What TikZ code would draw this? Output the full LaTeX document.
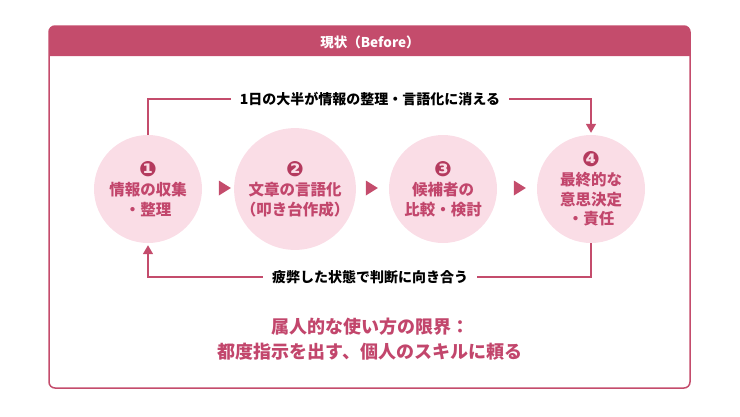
\documentclass[tikz,border=0pt]{standalone}
\usepackage{fontspec}
\setmainfont{Noto Sans CJK JP}
\newfontfamily\dingfont{DejaVu Sans}
\usepackage{tikz}
\usetikzlibrary{arrows.meta,shapes.geometric}
\definecolor{rose}{HTML}{C44C6C}
\definecolor{roselight}{HTML}{FADDE6}
\definecolor{rosetext}{HTML}{C2466C}
\definecolor{rosedark}{HTML}{B43A5E}
\newcommand{\stepno}[1]{{\dingfont\fontsize{21}{19}\selectfont\color{rosedark}#1}}

\begin{document}
\begin{tikzpicture}[x=1pt,y=-1pt,
	stepcircle/.style={circle, fill=roselight, minimum size=108pt, inner sep=0pt, align=center, text=rosetext, font=\fontsize{15.5}{19.5}\selectfont\bfseries},
	flowtri/.style={isosceles triangle, isosceles triangle stretches, fill=rose, minimum width=15pt, minimum height=12pt, inner sep=0pt},
	loopline/.style={rose, line width=1.5pt},
	looptext/.style={fill=white, inner xsep=9pt, inner ysep=2pt, font=\fontsize{14}{16}\selectfont\bfseries},
	tip/.style={-{Triangle[width=10pt,length=9pt]}, shorten >=2pt}]
	\useasboundingbox (0,0) rectangle (740,416);
	% frame and header
	\fill[rose] (49,56) [rounded corners=6pt] -- (49,26) -- (690,26) [sharp corners] -- (690,56) -- cycle;
	\draw[rose, line width=1.5pt, rounded corners=6pt] (49,26) rectangle (690,388);
	\node[text=white, font=\fontsize{13.5}{15}\selectfont\bfseries] (title) at (370,42) {現状（Before）};
	% steps
	\node[stepcircle] (c1) at (148,189) {\stepno{❶}\\情報の収集\\・整理};
	\node[stepcircle] (c2) at (295,189) {\stepno{❷}\\文章の言語化\\（叩き台作成）};
	\node[stepcircle] (c3) at (443,189) {\stepno{❸}\\候補者の\\比較・検討};
	\node[stepcircle] (c4) at (591,189) {\stepno{❹}\\最終的な\\意思決定\\・責任};
	\node[flowtri] (t1) at (223,188) {};
	\node[flowtri] (t2) at (370,188) {};
	\node[flowtri] (t3) at (518,188) {};
	% loops
	\draw[loopline, tip] (c1.north) -- ++(0,-36) -| (c4.north);
	\draw[loopline, tip] (c4.south) -- ++(0,34) -| (c1.south);
	\node[looptext] (topnote) at (370,99) {1日の大半が情報の整理・言語化に消える};
	\node[looptext] (bottomnote) at (370,277) {疲弊した状態で判断に向き合う};
	% summary
	\node[text=rosetext, align=center, font=\fontsize{18}{25}\selectfont\bfseries] (summary) at (370,339) {属人的な使い方の限界：\\都度指示を出す、個人のスキルに頼る};
\end{tikzpicture}
\end{document}
